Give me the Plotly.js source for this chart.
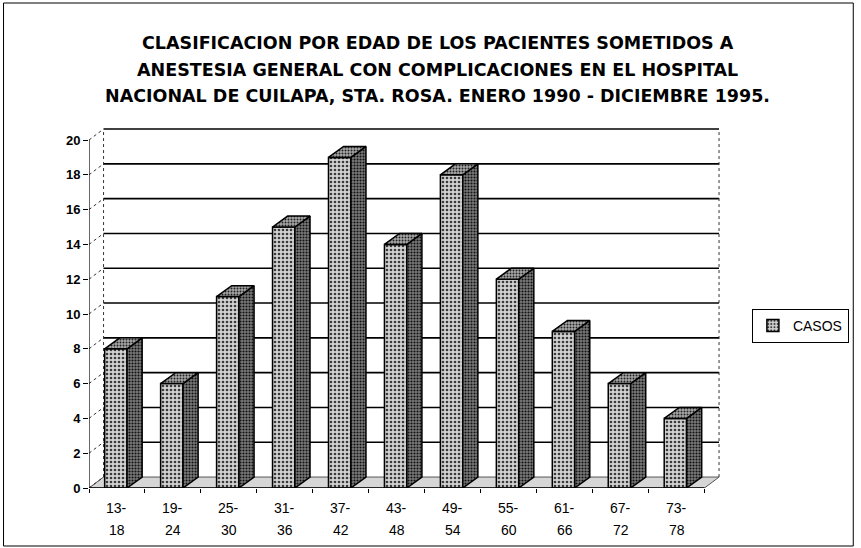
<!DOCTYPE html>
<html>
<head>
<meta charset="utf-8">
<script src="https://cdn.plot.ly/plotly-3.0.1.min.js"></script>
<style>html,body{margin:0;padding:0;background:#fff;}#chart{width:861px;height:548px;}</style>
</head>
<body>
<div id="chart"></div>
<script>
// ---- data ----
const labelTop = ['13-','19-','25-','31-','37-','43-','49-','55-','61-','67-','73-'];
const labelBottom = ['18','24','30','36','42','48','54','60','66','72','78'];
const casos = [8, 6, 11, 15, 19, 14, 18, 12, 9, 6, 4];
const yTicks = [0, 2, 4, 6, 8, 10, 12, 14, 16, 18, 20];
const titleLines = [
  'CLASIFICACION POR EDAD DE LOS PACIENTES SOMETIDOS A',
  'ANESTESIA GENERAL CON COMPLICACIONES EN EL HOSPITAL',
  'NACIONAL DE CUILAPA, STA. ROSA. ENERO 1990 - DICIEMBRE 1995.'
];

// ---- geometry (data units) ----
const n = casos.length;
const idx = casos.map((_, i) => i);
const DX = 0.26, DY = 0.63;         // 3D depth offset
const FW = 0.40, FO = -0.22;        // front face width / offset
const BX = 0.27, BY = 0.63;         // bar depth
const FONT = 'Liberation Sans, Arial, sans-serif';
const TFONT = 'DejaVu Sans, Liberation Sans, sans-serif';

const stippleFront = {shape: '.', bgcolor: '#d2d2d2', fgcolor: '#3a3a3a', size: 4, solidity: 0.35};
const stippleSide  = {shape: '.', bgcolor: '#7a7a7a', fgcolor: '#111', size: 3, solidity: 0.4};
const stippleTop   = {shape: '.', bgcolor: '#a8a8a8', fgcolor: '#222', size: 3, solidity: 0.35};

const traces = [];
traces.push({
  type: 'bar', name: 'CASOS', x: idx, y: casos, width: FW, offset: FO,
  marker: {color: '#d2d2d2', pattern: stippleFront, line: {color: '#000', width: 1.5}},
  hoverinfo: 'y', showlegend: true
});
// side faces
const sx = [], sy = [];
casos.forEach((v, i) => {
  const x1 = i + FO + FW;
  sx.push(x1, x1 + BX, x1 + BX, x1, x1, null);
  sy.push(0, BY, v + BY, v, 0, null);
});
traces.push({type: 'scatter', mode: 'lines', x: sx, y: sy, fill: 'toself',
  fillcolor: '#7a7a7a', fillpattern: stippleSide, line: {color: '#000', width: 1.5},
  hoverinfo: 'skip', showlegend: false});
// top faces
const tx = [], ty = [];
casos.forEach((v, i) => {
  const x0 = i + FO, x1 = i + FO + FW;
  tx.push(x0, x1, x1 + BX, x0 + BX, x0, null);
  ty.push(v, v, v + BY, v + BY, v, null);
});
traces.push({type: 'scatter', mode: 'lines', x: tx, y: ty, fill: 'toself',
  fillcolor: '#a8a8a8', fillpattern: stippleTop, line: {color: '#000', width: 1.5},
  hoverinfo: 'skip', showlegend: false});
// front y-axis line
traces.push({type: 'scatter', mode: 'lines', x: [-0.5, -0.5], y: [0, yTicks[yTicks.length - 1]],
  line: {color: '#000', width: 1.2}, hoverinfo: 'skip', showlegend: false});

// ---- shapes: wall, grid, floor ----
const L = -0.5, R = n - 0.5, TOP = yTicks[yTicks.length - 1];
const shapes = [];
// floor
shapes.push({type: 'path', layer: 'below', xref: 'x', yref: 'y',
  path: `M ${L} 0 L ${R} 0 L ${R + DX} ${DY} L ${L + DX} ${DY} Z`,
  fillcolor: '#d6d6d6', line: {color: '#555', width: 1}});
// back wall grid lines and slanted connectors
yTicks.forEach(v => {
  if (v > 0) {
    shapes.push({type: 'line', layer: 'below', xref: 'x', yref: 'y',
      x0: L + DX, x1: R + DX, y0: v + DY, y1: v + DY, line: {color: '#000', width: 1.6}});
  }
  shapes.push({type: 'line', layer: 'below', xref: 'x', yref: 'y',
    x0: L, x1: L + DX, y0: v, y1: v + DY, line: {color: '#333', width: 1, dash: 'dot'}});
});
// wall edges
shapes.push({type: 'line', layer: 'below', xref: 'x', yref: 'y',
  x0: L + DX, x1: L + DX, y0: DY, y1: TOP + DY, line: {color: '#333', width: 1, dash: 'dot'}});
shapes.push({type: 'line', layer: 'below', xref: 'x', yref: 'y',
  x0: R + DX, x1: R + DX, y0: DY, y1: TOP + DY, line: {color: '#333', width: 1, dash: 'dot'}});
// front base line
shapes.push({type: 'line', layer: 'above', xref: 'x', yref: 'y',
  x0: L, x1: R, y0: 0, y1: 0, line: {color: '#000', width: 1.5}});
// outer chart border
const PW = 651, PH = 372, ML = 89, MB = 60;
shapes.push({type: 'rect', xref: 'paper', yref: 'paper',
  x0: (3 - ML) / PW, x1: (858 - ML) / PW, y0: (488 - 546) / PH, y1: (488 - 3) / PH,
  line: {color: '#000', width: 1}, fillcolor: 'rgba(0,0,0,0)'});

// ---- annotations ----
const annotations = [];
const titleY = [43, 70, 96];
titleLines.forEach((t, k) => {
  annotations.push({text: '<b>' + t + '</b>', xref: 'paper', yref: 'paper',
    x: (440 - ML) / PW, y: (488 - titleY[k]) / PH, xanchor: 'center', yanchor: 'middle',
    showarrow: false, font: {family: TFONT, size: 17.5, color: '#000'}});
});
idx.forEach(i => {
  annotations.push({text: labelTop[i], xref: 'x', yref: 'paper', x: i, y: (488 - 508) / PH,
    xanchor: 'center', yanchor: 'middle', showarrow: false, font: {family: FONT, size: 14, color: '#000'}});
  annotations.push({text: labelBottom[i], xref: 'x', yref: 'paper', x: i, y: (488 - 530) / PH,
    xanchor: 'center', yanchor: 'middle', showarrow: false, font: {family: FONT, size: 14, color: '#000'}});
});

const boundaries = [];
for (let k = 0; k <= n; k++) boundaries.push(k - 0.5);

const layout = {
  width: 861, height: 548,
  margin: {l: ML, r: 861 - ML - PW, t: 548 - MB - PH, b: MB},
  paper_bgcolor: '#fff', plot_bgcolor: 'rgba(0,0,0,0)',
  font: {family: FONT, color: '#000'},
  xaxis: {range: [-0.5, -0.5 + PW / 56.3], showgrid: false, zeroline: false, showline: false,
    tickmode: 'array', tickvals: boundaries, ticktext: boundaries.map(() => ''),
    ticks: 'outside', ticklen: 4, tickcolor: '#000', showticklabels: false, fixedrange: true},
  yaxis: {range: [0, PH / 17.4], showgrid: false, zeroline: false, showline: false,
    tickmode: 'array', tickvals: yTicks, ticks: 'outside', ticklen: 5, tickcolor: '#000',
    tickfont: {family: FONT, size: 13, color: '#000', weight: 'bold'}, fixedrange: true},
  showlegend: true,
  legend: {x: (756 - ML) / PW, y: (488 - 326) / PH, xanchor: 'left', yanchor: 'middle',
    bordercolor: '#000', borderwidth: 1, bgcolor: '#fff', font: {family: FONT, size: 14},
    itemwidth: 30},
  shapes: shapes,
  annotations: annotations
};

Plotly.newPlot('chart', traces, layout, {displayModeBar: false, staticPlot: true});
</script>
</body>
</html>
